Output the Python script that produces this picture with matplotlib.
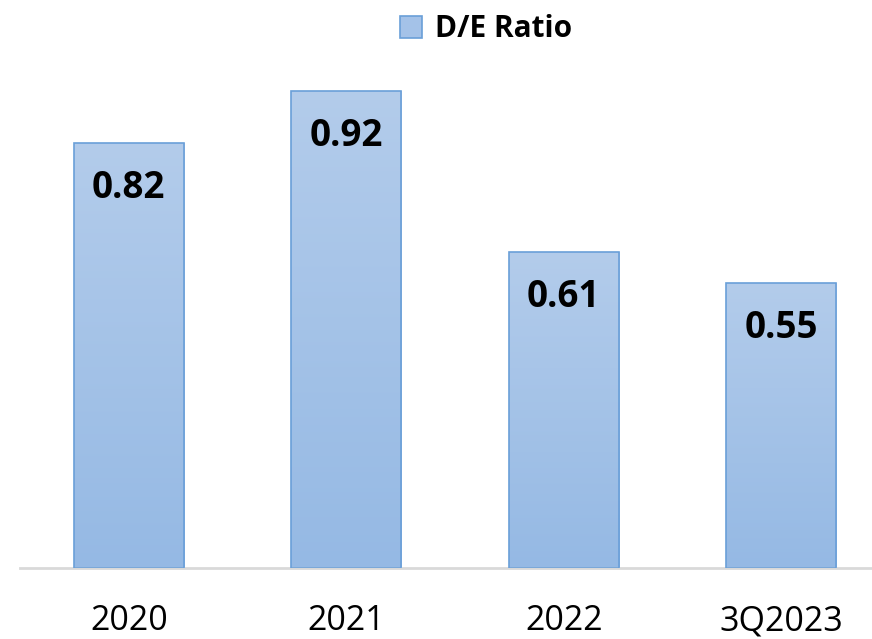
import matplotlib
matplotlib.use("Agg")
import matplotlib.pyplot as plt
import numpy as np
from matplotlib.colors import LinearSegmentedColormap
from matplotlib.patches import Patch

categories = ["2020", "2021", "2022", "3Q2023"]
de_ratio = [0.82, 0.92, 0.61, 0.55]

W, H = 872, 639
fig = plt.figure(figsize=(W / 100, H / 100), dpi=100)
# axes: left 20px, right edge of figure, baseline at y=568px, top at 50px
ax = fig.add_axes([20 / W, (H - 568) / H, (W - 20) / W, (568 - 50) / H])

cmap = LinearSegmentedColormap.from_list("grad", ["#95b9e4", "#b3cceb"])
x = np.arange(len(categories))
bars = ax.bar(x, de_ratio, width=0.506, color="#a4c2e8", edgecolor="#6a9fd8",
              linewidth=1.2, zorder=2)

grad = np.linspace(0, 1, 256).reshape(-1, 1)
for b in bars:
    bx, by = b.get_x(), b.get_y()
    bw, bh = b.get_width(), b.get_height()
    im = ax.imshow(grad, cmap=cmap, origin="lower", aspect="auto",
                   extent=[bx, bx + bw, 0, bh], zorder=2.5)
    im.set_clip_path(b)
    b.set_facecolor("none")
    b.set_zorder(3)

for xi, v in zip(x, de_ratio):
    ax.text(xi, v - 0.086, f"{v:.2f}", ha="center", va="center",
            fontsize=26.5, fontweight="bold", family="Open Sans", color="black",
            zorder=4)

ax.set_xlim(-0.5, -0.5 + (W - 20) / 217.5)
ax.set_ylim(0, 1.0)
ax.set_xticks(x)
ax.set_xticklabels(categories, fontsize=24.5, family="Open Sans")
ax.tick_params(axis="x", length=0, pad=26)
ax.set_yticks([])
for s in ["top", "right", "left"]:
    ax.spines[s].set_visible(False)
ax.spines["bottom"].set_color("#d9d9d9")
ax.spines["bottom"].set_linewidth(2)

handle = Patch(facecolor="#a4c2e8", edgecolor="#6a9fd8", linewidth=1.2)
fig.legend([handle], ["D/E Ratio"], loc="center", bbox_to_anchor=(486 / W, 1 - 29 / H),
           frameon=False, handlelength=0.75, handleheight=0.75, handletextpad=0.45,
           prop={"family": "Open Sans", "weight": "bold", "size": 21.5})

fig.savefig("out.png", dpi=100)
